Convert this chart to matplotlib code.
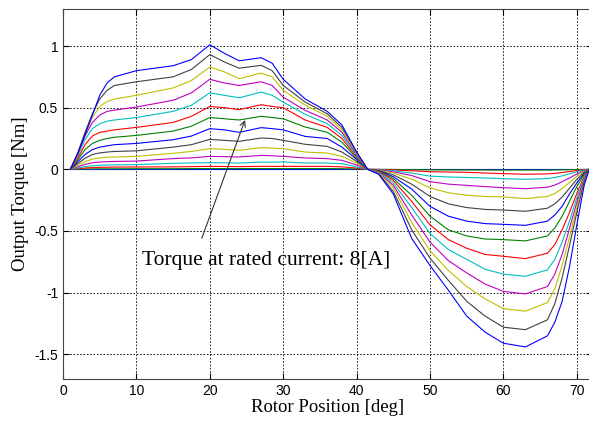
import matplotlib
matplotlib.use("Agg")
import matplotlib.pyplot as plt

# rotor position grid [deg]
pos = [1, 2, 3, 4, 5, 6, 7, 10,
       15, 17.5, 20, 22, 24, 27, 28.5, 30, 33, 36, 38, 40, 41.5,
       43, 45, 47.5, 50, 52.5, 55, 57.5, 60, 63,
       66, 67, 68, 69, 70, 71, 71.7]

# output torque [Nm] for phase currents 0..14 A
t00 = [0.0] * len(pos)
t01 = [0, 0.001, 0.003, 0.0035, 0.004, 0.004, 0.004, 0.005,
       0.005, 0.006, 0.006, 0.006, 0.006, 0.006, 0.006, 0.006, 0.006, 0.006, 0.005, 0.003, 0,
       0, -0.001, -0.003, -0.004, -0.005, -0.005, -0.006, -0.006, -0.006,
       -0.006, -0.005, -0.004, -0.003, -0.0015, -0.0005, 0]
t02 = [0, 0.005, 0.011, 0.014, 0.016, 0.017, 0.018, 0.019,
       0.02, 0.022, 0.024, 0.023, 0.022, 0.024, 0.024, 0.024, 0.024, 0.024, 0.02, 0.01, 0,
       -0.001, -0.005, -0.012, -0.019, -0.022, -0.024, -0.03, -0.035, -0.04,
       -0.037, -0.033, -0.026, -0.018, -0.01, -0.003, 0]
t03 = [0, 0.011, 0.022, 0.029, 0.033, 0.035, 0.036, 0.038,
       0.049, 0.052, 0.054, 0.053, 0.051, 0.059, 0.058, 0.06, 0.051, 0.051, 0.046, 0.02, 0,
       -0.003, -0.012, -0.03, -0.055, -0.062, -0.066, -0.07, -0.076, -0.081,
       -0.075, -0.066, -0.053, -0.036, -0.019, -0.006, 0]
t04 = [0, 0.02, 0.04, 0.053, 0.059, 0.062, 0.064, 0.067,
       0.087, 0.093, 0.105, 0.103, 0.10, 0.113, 0.11, 0.105, 0.092, 0.087, 0.073, 0.035, 0,
       -0.005, -0.02, -0.05, -0.10, -0.12, -0.13, -0.14, -0.149, -0.157,
       -0.145, -0.128, -0.10, -0.07, -0.038, -0.011, 0]
t05 = [0, 0.03, 0.062, 0.083, 0.093, 0.098, 0.10, 0.105,
       0.13, 0.145, 0.168, 0.162, 0.154, 0.176, 0.172, 0.167, 0.14, 0.132, 0.105, 0.05, 0,
       -0.007, -0.03, -0.08, -0.15, -0.19, -0.21, -0.22, -0.224, -0.237,
       -0.22, -0.195, -0.156, -0.107, -0.057, -0.017, 0]
t06 = [0, 0.045, 0.09, 0.12, 0.133, 0.14, 0.145, 0.15,
       0.18, 0.20, 0.243, 0.235, 0.227, 0.254, 0.25, 0.235, 0.203, 0.186, 0.14, 0.065, 0,
       -0.01, -0.045, -0.12, -0.22, -0.28, -0.31, -0.325, -0.33, -0.34,
       -0.315, -0.28, -0.225, -0.153, -0.082, -0.024, 0]
t07 = [0, 0.06, 0.12, 0.16, 0.18, 0.19, 0.20, 0.21,
       0.24, 0.27, 0.33, 0.32, 0.30, 0.338, 0.33, 0.32, 0.267, 0.25, 0.18, 0.08, 0,
       -0.012, -0.06, -0.16, -0.30, -0.38, -0.42, -0.44, -0.446, -0.454,
       -0.42, -0.37, -0.30, -0.20, -0.11, -0.032, 0]
t08 = [0, 0.075, 0.16, 0.21, 0.235, 0.25, 0.26, 0.275,
       0.31, 0.35, 0.42, 0.41, 0.40, 0.43, 0.42, 0.41, 0.343, 0.30, 0.22, 0.09, 0,
       -0.015, -0.075, -0.21, -0.38, -0.49, -0.54, -0.565, -0.57, -0.58,
       -0.54, -0.475, -0.38, -0.26, -0.14, -0.04, 0]
t09 = [0, 0.09, 0.20, 0.27, 0.30, 0.31, 0.32, 0.34,
       0.38, 0.43, 0.51, 0.50, 0.484, 0.524, 0.51, 0.50, 0.40, 0.34, 0.25, 0.10, 0,
       -0.017, -0.09, -0.26, -0.45, -0.57, -0.64, -0.69, -0.705, -0.724,
       -0.68, -0.61, -0.49, -0.35, -0.195, -0.058, 0]
t10 = [0, 0.11, 0.24, 0.33, 0.37, 0.39, 0.40, 0.42,
       0.47, 0.52, 0.62, 0.60, 0.58, 0.626, 0.60, 0.545, 0.446, 0.37, 0.275, 0.11, 0,
       -0.02, -0.11, -0.31, -0.52, -0.65, -0.73, -0.81, -0.85, -0.867,
       -0.815, -0.73, -0.59, -0.42, -0.23, -0.07, 0]
t11 = [0, 0.12, 0.27, 0.38, 0.44, 0.47, 0.48, 0.505,
       0.56, 0.62, 0.73, 0.70, 0.68, 0.71, 0.68, 0.585, 0.478, 0.40, 0.30, 0.12, 0,
       -0.025, -0.13, -0.37, -0.59, -0.74, -0.84, -0.93, -0.99, -1.01,
       -0.95, -0.85, -0.69, -0.48, -0.27, -0.08, 0]
t12 = [0, 0.13, 0.29, 0.42, 0.51, 0.55, 0.57, 0.60,
       0.66, 0.72, 0.83, 0.79, 0.735, 0.78, 0.75, 0.64, 0.52, 0.43, 0.32, 0.13, 0,
       -0.03, -0.15, -0.43, -0.66, -0.82, -0.95, -1.05, -1.13, -1.15,
       -1.08, -0.97, -0.78, -0.55, -0.31, -0.09, 0]
t13 = [0, 0.13, 0.30, 0.45, 0.57, 0.64, 0.68, 0.71,
       0.75, 0.81, 0.93, 0.87, 0.82, 0.843, 0.80, 0.68, 0.545, 0.45, 0.34, 0.14, 0,
       -0.035, -0.18, -0.49, -0.72, -0.90, -1.07, -1.19, -1.28, -1.30,
       -1.22, -1.09, -0.88, -0.62, -0.35, -0.10, 0]
t14 = [0, 0.13, 0.28, 0.44, 0.60, 0.70, 0.75, 0.80,
       0.84, 0.89, 1.01, 0.94, 0.88, 0.905, 0.86, 0.73, 0.57, 0.47, 0.36, 0.14, 0,
       -0.04, -0.20, -0.56, -0.78, -0.98, -1.19, -1.32, -1.41, -1.44,
       -1.35, -1.24, -1.07, -0.79, -0.45, -0.13, 0]

curves = [t00, t01, t02, t03, t04, t05, t06, t07, t08, t09, t10, t11, t12, t13, t14]

# old MATLAB colour order: b g r c m y k
order = [(0, 0, 1), (0, 0.5, 0), (1, 0, 0), (0, 0.75, 0.75),
         (0.75, 0, 0.75), (0.75, 0.75, 0), (0.25, 0.25, 0.25)]

fig = plt.figure(figsize=(5.89, 4.24), dpi=100)
ax = fig.add_axes([63 / 589, 45 / 424, 528.5 / 589, 370 / 424])

for i, t in enumerate(curves):
    ax.plot(pos, t, color=order[i % 7], lw=0.8)

ax.set_xlim(0, 72)
ax.set_ylim(-1.7, 1.3)
ax.set_xticks(range(0, 71, 10))
ax.set_yticks([-1.5, -1, -0.5, 0, 0.5, 1])
ax.set_yticklabels(['-1.5', '-1', '-0.5', '0', '0.5', '1'])
ax.tick_params(direction='in', length=4, labelsize=10, top=True, right=True)
for lbl in ax.get_xticklabels() + ax.get_yticklabels():
    lbl.set_family('Liberation Sans')
ax.grid(True, color='black', linestyle=(0, (2, 2)), lw=0.6)
for s in ax.spines.values():
    s.set_color('#444444')

serif = 'Liberation Serif'
ax.set_xlabel('Rotor Position [deg]', family=serif, fontsize=13.5, labelpad=1)
ax.set_ylabel('Output Torque [Nm]', family=serif, fontsize=13.5, labelpad=4)

# arrow to the 8 A curve, label below it
ax.annotate('', xy=(24.8, 0.40), xytext=(18.9, -0.56),
            arrowprops=dict(arrowstyle='->', color='#333333', lw=0.8,
                            shrinkA=0, shrinkB=0))
ax.text(10.8, -0.74, 'Torque at rated current: 8[A]', family=serif,
        fontsize=15.5, va='center')

fig.savefig('out.png', dpi=100)
